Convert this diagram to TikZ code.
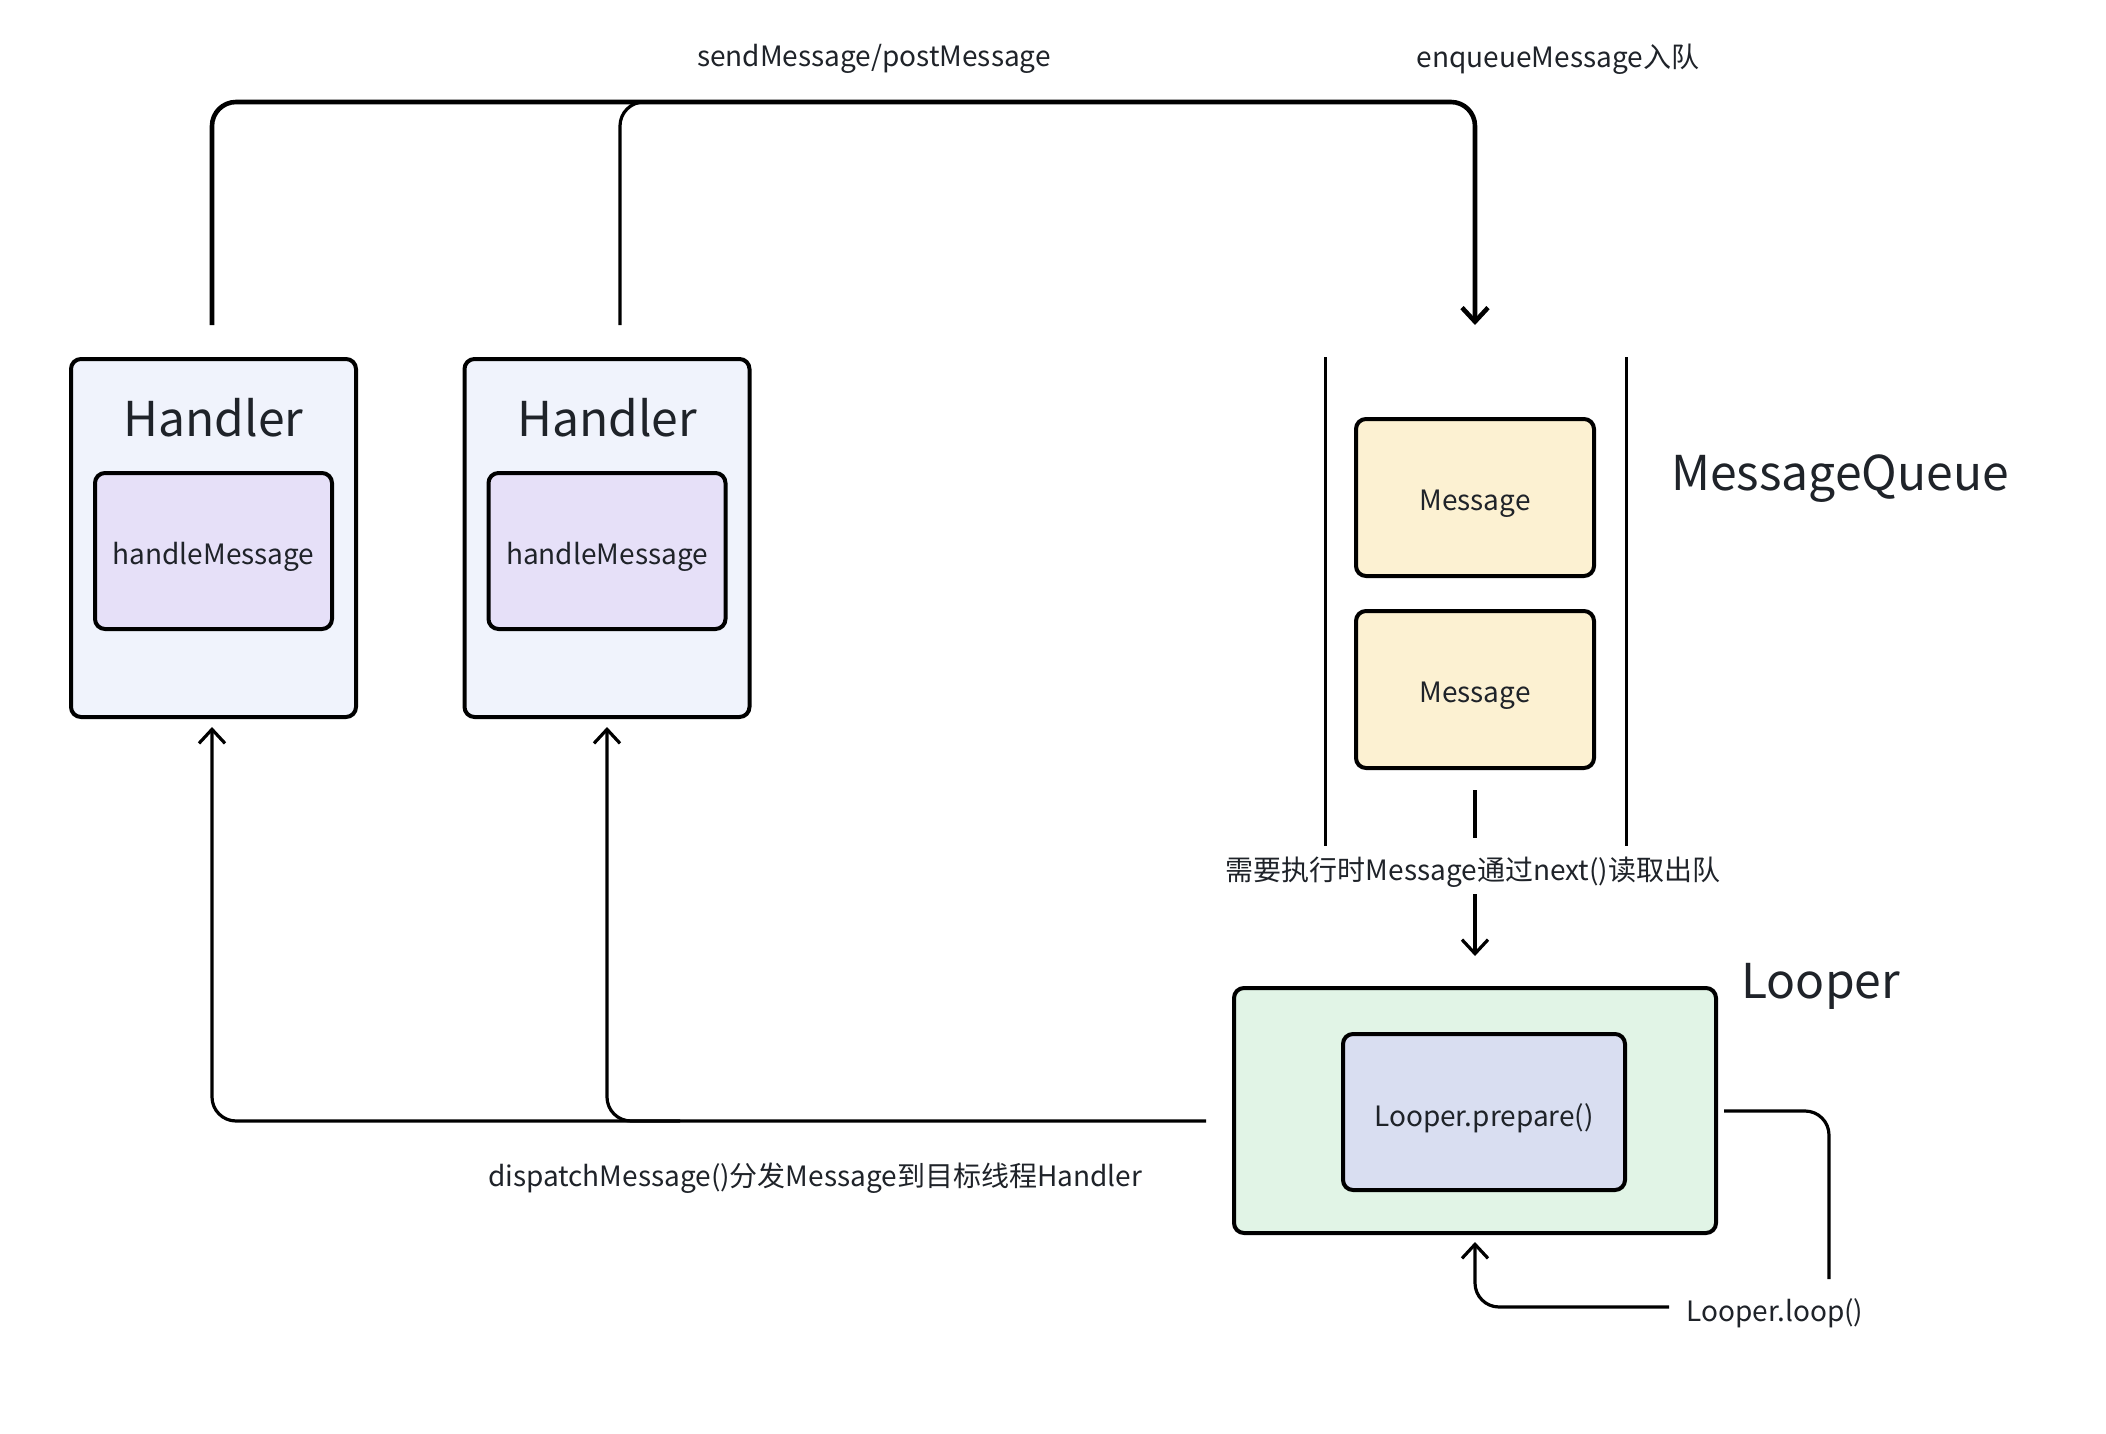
\documentclass[tikz,border=0pt]{standalone}
\usepackage{fontspec}
\setmainfont{Noto Sans CJK SC}
\usetikzlibrary{arrows.meta,calc}
\definecolor{txt}{HTML}{1F2329}
\definecolor{hfill}{HTML}{F0F3FC}
\definecolor{hinner}{HTML}{E6E0F8}
\definecolor{mfill}{HTML}{FCF1D2}
\definecolor{lfill}{HTML}{E1F4E6}
\definecolor{linner}{HTML}{D9DEF1}
\tikzset{
  box/.style={draw=black, line width=2pt, rounded corners=5pt, inner sep=0pt},
  big/.style={text=txt, font=\fontsize{24}{28}\selectfont, inner sep=0pt},
  small/.style={text=txt, font=\fontsize{14}{17}\selectfont, inner sep=0pt},
  conn/.style={line width=1.6pt, rounded corners=12pt},
  thick conn/.style={line width=2.3pt, rounded corners=12pt},
  tip/.style={-{Straight Barb[length=7pt,width=13pt,line width=1.6pt]}},
  bigtip/.style={-{Straight Barb[length=7pt,width=13pt,line width=2.3pt]}},
}
\begin{document}
\begin{tikzpicture}[x=0.5pt,y=-0.5pt]
\useasboundingbox[fill=white] (0,0) rectangle (2106,1434);

% Handlers
\node[box, fill=hfill, minimum width=142.5pt, minimum height=179pt] (h1) at (213.5,538) {};
\node[box, fill=hinner, minimum width=118.5pt, minimum height=78pt] (h1i) at (213.5,551) {};
\node[small] (h1t) at (213.5,557) {handleMessage};
\node[big] (h1n) at (213.5,418) {Handler};

\node[box, fill=hfill, minimum width=142.5pt, minimum height=179pt] (h2) at (607,538) {};
\node[box, fill=hinner, minimum width=118.5pt, minimum height=78pt] (h2i) at (607,551) {};
\node[small] (h2t) at (607,557) {handleMessage};
\node[big] (h2n) at (607,418) {Handler};

% MessageQueue
\coordinate (qlt) at (1325,357);
\coordinate (qlb) at (1325,846);
\coordinate (qrt) at (1626,357);
\coordinate (qrb) at (1626,846);
\draw[line width=1.5pt] (qlt) -- (qlb);
\draw[line width=1.5pt] (qrt) -- (qrb);
\node[box, fill=mfill, minimum width=119pt, minimum height=78.5pt] (m1) at (1475,497.5) {};
\node[small] (m1t) at (1475,504) {Message};
\node[box, fill=mfill, minimum width=119pt, minimum height=78.5pt] (m2) at (1475,689.5) {};
\node[small] (m2t) at (1475,696) {Message};
\node[big, anchor=west] (mq) at (1671,479) {MessageQueue};

% Looper
\node[box, fill=lfill, minimum width=241pt, minimum height=122.5pt] (lp) at (1475,1110.5) {};
\node[box, fill=linner, minimum width=141pt, minimum height=78pt] (lpi) at (1484,1112) {};
\node[small] (lpt) at (1484,1118) {Looper.prepare()};
\node[big, anchor=west] (lpn) at (1741,986) {Looper};

% top connectors
\coordinate (s1) at (212,325);
\coordinate (s2) at (620,325);
\coordinate (qin) at (1475,325);
\draw[thick conn, bigtip] (s1) -- (212,102) -- (1475,102) -- (qin);
\draw[conn] (s2) -- (620,102) -- (720,102);
\node[small] (lsend) at (874,59) {sendMessage/postMessage};
\node[small] (lenq) at (1558,59) {enqueueMessage入队};

% dequeue
\coordinate (d1) at (1475,790);
\coordinate (d2) at (1475,838);
\coordinate (d3) at (1475,894);
\coordinate (d4) at (1475,956);
\draw[line width=1.6pt] (d1) -- (d2);
\node[small] (ldeq) at (1473,872) {需要执行时Message通过next()读取出队};
\draw[line width=1.6pt, tip] (d3) -- (d4);

% dispatch
\coordinate (ds) at (1206,1121);
\coordinate (a1) at (212,727);
\coordinate (a2) at (607,727);
\draw[conn, tip] (ds) -- (212,1121) -- (a1);
\draw[conn, tip] (680,1121) -- (607,1121) -- (a2);
\node[small] (ldis) at (815,1178) {dispatchMessage()分发Message到目标线程Handler};

% loop
\coordinate (l1) at (1724,1111);
\coordinate (l2) at (1829,1279);
\draw[conn] (l1) -- (1829,1111) -- (l2);
\node[small] (lloop) at (1775,1313) {Looper.loop()};
\coordinate (l3) at (1669,1307);
\coordinate (l4) at (1475,1242);
\draw[conn, tip] (l3) -- (1475,1307) -- (l4);
\end{tikzpicture}
\end{document}
